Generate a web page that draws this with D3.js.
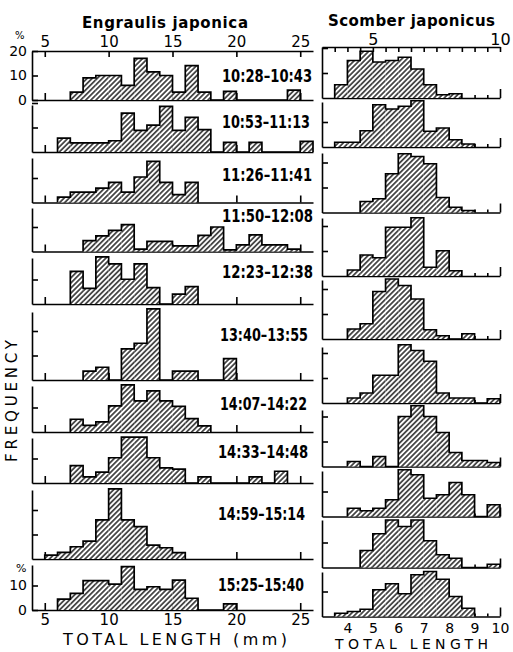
<!DOCTYPE html>
<html>
<head>
<meta charset="utf-8">
<script src="https://cdn.jsdelivr.net/npm/d3@7"></script>
<style>
  body { margin: 0; background: #fff; }
  svg text { font-family: "DejaVu Sans", sans-serif; fill: #000; }
</style>
</head>
<body>
<svg id="chart" width="513" height="652"></svg>
<script>
// ---- data (percent frequency per length class) ----
// Engraulis japonica, 1 mm classes, lower edge of class
var anchovyLengths = [5, 6, 7, 8, 9, 10, 11, 12, 13, 14, 15, 16, 17, 18, 19, 20, 21, 22, 23, 24, 25]
var anchovyTimes = ['10:28–10:43', '10:53–11:13', '11:26–11:41', '11:50–12:08', '12:23–12:38',
  '13:40–13:55', '14:07–14:22', '14:33–14:48', '14:59–15:14', '15:25–15:40']
var anchovy1 = [0, 0, 3.2, 9, 10, 10, 6, 17, 11.5, 10, 3.2, 14, 3.2, 0, 3.5, 0, 0, 0, 0, 4, 0]
var anchovy2 = [0, 5.7, 3.7, 3.7, 3.7, 4.6, 15.9, 8.8, 11, 18.6, 8.8, 14.1, 9.1, 0, 3.9, 0, 3.9, 0, 0, 0, 4.3]
var anchovy3 = [0, 2.2, 4.2, 4.2, 5.9, 8.2, 4.2, 10.4, 16.8, 8.2, 3.2, 8.2, 0, 0, 0, 0, 0, 0, 0, 0, 0]
var anchovy4 = [0, 0, 0, 4.4, 6.4, 8.6, 11, 1, 4.1, 4.1, 2.3, 2.3, 6.6, 10, 0.7, 2.7, 6.8, 2.7, 2.7, 1, 0]
var anchovy5 = [0, 0, 13.3, 6.4, 19.2, 16.4, 10.1, 16.4, 6.7, 0, 4, 7.1, 0, 0, 0, 0, 0, 0, 0, 0, 0]
var anchovy6 = [0, 0, 0, 3.6, 5.2, 0, 12.7, 15, 29, 0, 3.6, 3.6, 0, 0, 8.7, 0, 0, 0, 0, 0, 0]
var anchovy7 = [0, 0, 5.2, 2.7, 4.1, 10.7, 19.2, 12.7, 16.8, 12.7, 10.5, 5.5, 2.5, 0, 0, 0, 0, 0, 0, 0, 0]
var anchovy8 = [0, 0, 7.1, 2.5, 4.4, 10.3, 18.7, 18.7, 10.3, 6.2, 5.7, 0, 2.5, 0, 0, 0, 2.5, 0, 4.8, 0, 0]
var anchovy9 = [1.6, 2.7, 5, 7.3, 16, 28.6, 16, 13.2, 5.7, 4.6, 2.6, 0, 0, 0, 0, 0, 0, 0, 0, 0, 0]
var anchovy10 = [0, 4.4, 6.8, 12, 12, 10.6, 17.7, 8.4, 9.5, 8.4, 12.2, 4.8, 0, 0, 2.5, 0, 0, 0, 0, 0, 0]
var anchovySeries = [anchovy1, anchovy2, anchovy3, anchovy4, anchovy5,
  anchovy6, anchovy7, anchovy8, anchovy9, anchovy10]

// Scomber japonicus, 0.5 cm classes, lower edge of class
var mackerelLengths = [3.5, 4, 4.5, 5, 5.5, 6, 6.5, 7, 7.5, 8, 8.5, 9, 9.5]
var mackerel1 = [5.3, 15, 18.7, 14.4, 15, 16.3, 11.6, 5.3, 1.3, 1.7, 0, 0, 0]
var mackerel2 = [1.9, 1.9, 6.5, 16.9, 15.2, 16.3, 18.5, 6.3, 7.6, 2.9, 1.2, 0, 0]
var mackerel3 = [0, 0, 4.4, 5.5, 15.5, 23.5, 22.4, 19.5, 6, 2.1, 0.8, 0, 0]
var mackerel4 = [0, 2.4, 8.4, 7.3, 19.5, 19.5, 23.3, 3.5, 10.1, 2.1, 0, 0, 0]
var mackerel5 = [0, 4, 6.1, 19, 24, 21.4, 16, 3.7, 1.3, 0, 2.1, 0, 0]
var mackerel6 = [0, 2, 4, 11.1, 11.1, 23.3, 21, 16.7, 4, 2, 2, 0, 1.7]
var mackerel7 = [0, 2, 0, 4, 0, 20, 24.3, 20, 13.6, 5.6, 2.4, 2.4, 1.6]
var mackerel8 = [0, 3.3, 2.3, 3.3, 6.7, 18.7, 16.7, 7.3, 8.7, 13.6, 8.7, 0, 4.7]
var mackerel9 = [0, 0, 6.8, 13.5, 19, 16.4, 19, 10.7, 5.1, 3.7, 0, 0, 1.3]
var mackerel10 = [1.3, 2, 2.9, 10.7, 13.1, 9.1, 16.7, 18, 14.9, 8, 3.3, 0, 0]
var mackerelSeries = [mackerel1, mackerel2, mackerel3, mackerel4, mackerel5,
  mackerel6, mackerel7, mackerel8, mackerel9, mackerel10]

var anchovyTicks = [5, 10, 15, 20, 25]
var mackerelTopTicks = [3.5, 4, 4.5, 5, 5.5, 6, 6.5, 7, 7.5, 8, 8.5, 9, 9.5, 10]
var mackerelBottomTicks = [4, 5, 6, 7, 8, 9, 10]

// ---- layout ----
var leftTop = [51, 105, 158, 208, 258, 312, 386, 438, 490, 565]
var leftBase = [100, 152, 202.5, 251.5, 304, 380, 432, 483, 559, 610]
var rightTop = [47, 102, 153, 218, 280, 347, 410, 471, 520, 572]
var rightBase = [98, 147, 212.5, 276, 339, 403, 466.5, 516.5, 567.5, 616.5]
var timeX = [222, 222, 222, 222, 222, 220, 220, 218, 218, 218]
var timeW = [90, 88, 90, 91, 91, 88, 87, 90, 87, 86]
var timeY = [82, 128, 181, 222, 278, 341, 410, 458, 520, 591]

var svg = d3.select('#chart')

var defs = svg.append('defs')
var pat = defs.append('pattern')
  .attr('id', 'hatch')
  .attr('patternUnits', 'userSpaceOnUse')
  .attr('width', 3.6).attr('height', 3.6)
  .attr('patternTransform', 'rotate(45)')
pat.append('rect').attr('width', 3.6).attr('height', 3.6).attr('fill', '#fff')
pat.append('line')
  .attr('x1', 1.8).attr('y1', 0).attr('x2', 1.8).attr('y2', 3.6)
  .attr('stroke', '#000').attr('stroke-width', 1.3)

var xL = d3.scaleLinear().domain([4, 26]).range([32, 313])
var xR = d3.scaleLinear().domain([3, 10]).range([322, 500])

function styleAxis(g, size) {
  g.attr('font-family', null).attr('font-size', null)
  g.selectAll('path, line').attr('stroke', '#000').attr('stroke-width', 1.6)
  g.selectAll('text').attr('font-size', size || 14)
}

function drawPanel(x, binW, lengths, values, top, base, px10, labels) {
  var g = svg.append('g')
  var y = d3.scaleLinear().domain([0, (base - top) * 10 / px10]).range([base, top])

  // bars
  var bars = lengths.map(function(l, i) { return {l: l, v: values[i]} })
  g.selectAll('rect.bar')
    .data(bars.filter(function(d) { return d.v > 0 }))
    .enter().append('rect')
    .attr('class', 'bar')
    .attr('x', function(d) { return x(d.l) })
    .attr('width', function(d) { return x(d.l + binW) - x(d.l) })
    .attr('y', function(d) { return y(d.v) })
    .attr('height', function(d) { return base - y(d.v) })
    .attr('fill', 'url(#hatch)')

  // step outline
  var first = 0, last = bars.length - 1
  while (first < last && bars[first].v === 0) first++
  while (last > first && bars[last].v === 0) last--
  var pts = [[bars[first].l, 0]]
  for (var i = first; i <= last; i++) pts.push([bars[i].l, bars[i].v])
  pts.push([bars[last].l + binW, bars[last].v])
  pts.push([bars[last].l + binW, 0])
  g.append('path')
    .attr('d', d3.line()
      .x(function(d) { return x(d[0]) })
      .y(function(d) { return y(d[1]) })
      .curve(d3.curveStepAfter)(pts))
    .attr('fill', 'none')
    .attr('stroke', '#000')
    .attr('stroke-width', 1.7)

  // y axis
  var yt = [0, 10, 20, 30].filter(function(v) { return y(v) >= top - 2 })
  if (!labels) yt = yt.filter(function(v) { return v > 0 })
  var ya = d3.axisLeft(y).tickValues(yt).tickSizeInner(-6).tickSizeOuter(0).tickPadding(5)
    .tickFormat(labels ? d3.format('d') : '')
  g.append('g').attr('transform', 'translate(' + x.range()[0] + ',0)').call(ya).call(styleAxis, 14)
  return {g: g, y: y}
}

// ---- left column: Engraulis japonica ----
anchovySeries.forEach(function(vals, i) {
  var labels = (i === 0 || i === 9)
  // baseline with ticks (under the bars)
  var xa = d3.axisBottom(xL).tickValues(anchovyTicks).tickSizeInner(-7).tickSizeOuter(0)
    .tickPadding(4).tickFormat(i === 9 ? d3.format('d') : '')
  svg.append('g').attr('transform', 'translate(0,' + leftBase[i] + ')').call(xa).call(styleAxis, 15)
  drawPanel(xL, 1, anchovyLengths, vals, leftTop[i], leftBase[i], 24.5, labels)
  svg.append('text')
    .attr('x', timeX[i]).attr('y', timeY[i])
    .attr('textLength', timeW[i]).attr('lengthAdjust', 'spacingAndGlyphs')
    .style('font-family', '"DejaVu Sans Condensed", "DejaVu Sans", sans-serif')
    .attr('font-size', 17).attr('font-weight', 'bold')
    .text(anchovyTimes[i])
})

// top axis, left
svg.append('g').attr('transform', 'translate(0,' + leftTop[0] + ')')
  .call(d3.axisTop(xL).tickValues(anchovyTicks).tickSizeInner(-6).tickSizeOuter(0).tickPadding(4))
  .call(styleAxis, 15)

// percent signs
svg.append('text').attr('x', 15).attr('y', 39).attr('font-size', 10).text('%')
svg.append('text').attr('x', 16).attr('y', 572).attr('font-size', 11).text('%')

// ---- right column: Scomber japonicus ----
mackerelSeries.forEach(function(vals, i) {
  var ra = d3.axisBottom(xR).tickValues([9, 9.5, 10]).tickSizeInner(-3).tickSizeOuter(0).tickFormat('')
  var rg = svg.append('g').attr('transform', 'translate(0,' + rightBase[i] + ')').call(ra).call(styleAxis)
  rg.selectAll('.tick line').attr('y2', function(d) { return d === 10 ? -9 : -3 })
  drawPanel(xR, 0.5, mackerelLengths, vals, rightTop[i], rightBase[i], 25, false)
})

svg.append('g').attr('transform', 'translate(0,' + rightTop[0] + ')')
  .call(d3.axisTop(xR).tickValues(mackerelTopTicks).tickSizeInner(-5).tickSizeOuter(0).tickPadding(2)
    .tickFormat(function(d) { return (d === 5 || d === 10) ? d : '' }))
  .call(styleAxis, 16)

svg.append('g').attr('transform', 'translate(0,' + rightBase[9] + ')')
  .call(d3.axisBottom(xR).tickValues(mackerelBottomTicks).tickSize(0).tickPadding(7)
    .tickFormat(d3.format('d')))
  .call(styleAxis, 14)
  .select('.domain').remove()

// ---- titles and axis titles ----
svg.append('text')
  .attr('x', 82).attr('y', 28)
  .attr('textLength', 166).attr('lengthAdjust', 'spacing')
  .attr('font-size', 15).attr('font-weight', 'bold')
  .text('Engraulis japonica')

svg.append('text')
  .attr('x', 328).attr('y', 26)
  .attr('textLength', 167).attr('lengthAdjust', 'spacing')
  .attr('font-size', 15).attr('font-weight', 'bold')
  .text('Scomber japonicus')

svg.append('text')
  .attr('x', 63).attr('y', 645)
  .attr('textLength', 224).attr('lengthAdjust', 'spacing')
  .attr('font-size', 16)
  .text('TOTAL LENGTH (mm)')

svg.append('text')
  .attr('x', 335).attr('y', 649)
  .attr('textLength', 153).attr('lengthAdjust', 'spacing')
  .attr('font-size', 14)
  .text('TOTAL LENGTH')

svg.append('text')
  .attr('transform', 'translate(17,401) rotate(-90)')
  .attr('text-anchor', 'middle')
  .attr('textLength', 122).attr('lengthAdjust', 'spacing')
  .attr('font-size', 15)
  .text('FREQUENCY')
</script>
</body>
</html>
